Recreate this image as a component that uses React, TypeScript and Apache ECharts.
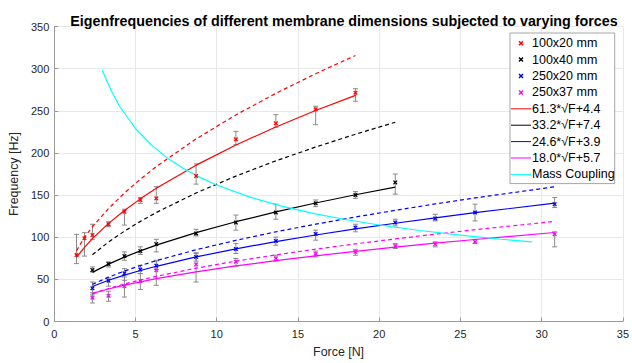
import React, { useEffect, useRef } from "react";
import * as echarts from "echarts";

const FONT = '"Liberation Sans", Arial, Helvetica, sans-serif';

// Applied force [N]
const forceRed = [1.37, 1.86, 2.35, 3.34, 4.32, 5.3, 6.28, 8.73, 11.18, 13.64, 16.09, 18.54];
const forceBlack = [2.35, 3.34, 4.32, 5.3, 6.28, 8.73, 11.18, 13.64, 16.09, 18.54, 20.99];
const forceLong = [2.35, 3.34, 4.32, 5.3, 6.28, 8.73, 11.18, 13.64, 16.09, 18.54, 20.99, 23.45, 25.9, 30.8];

// Measured frequencies [Hz] with error-bar bounds
const red = [78.9, 98.7, 102.5, 115.4, 130.3, 144.2, 146.1, 172.6, 216.1, 235.1, 251.7, 271.3];
const redLo = [68.7, 77.6, 97.5, 112.4, 114.4, 140.2, 140.2, 163, 209.7, 230.5, 233.5, 261.3];
const redHi = [103.4, 105.4, 115.4, 118.3, 133.2, 147.1, 160, 186.9, 225.6, 245.4, 255.4, 276.2];

const black = [61.0, 68.2, 77.6, 83.6, 91.9, 104.4, 117.4, 129.3, 140.2, 150.1, 165];
const blackLo = [58.8, 64.7, 72.7, 79.6, 82.6, 101.5, 108.4, 121.3, 136.2, 146.1, 151.1];
const blackHi = [64.7, 70.7, 82.6, 88.6, 97.5, 109.4, 126.3, 139.2, 144.2, 154.1, 175];

const blue = [39.4, 48.4, 57.2, 61.7, 66.2, 76.6, 86, 95.5, 103.8, 111.4, 117.4, 122.3, 129.3, 139.2];
const blueLo = [31.5, 41.9, 48.8, 56.8, 61.7, 71.7, 80.6, 90.5, 96.5, 106.4, 113.4, 119.3, 119.3, 135.2];
const blueHi = [46.9, 51.8, 62.7, 66.7, 71.7, 81.6, 92.5, 100.1, 108.4, 115.4, 121.3, 127.3, 139.2, 147.1];

const magenta = [28.3, 30.6, 41.9, 47.8, 60.8, 67.7, 71, 75, 80.1, 82.6, 89.5, 91.9, 94.5, 103.5];
const magentaLo = [22, 24, 29, 37.9, 42.9, 46.8, 65.7, 71.7, 76.6, 78.6, 86.6, 88.6, 92.5, 88.6];
const magentaHi = [34, 35.9, 52.8, 56.8, 72.7, 80.6, 74.7, 78.6, 83.6, 85.6, 92.5, 94.5, 97.5, 106.4];

// Fitted curves (solid), read at the measured forces
const redFit = [76.2, 88.0, 98.4, 116.4, 131.8, 145.5, 158.0, 185.5, 209.4, 230.8, 250.3, 268.3];
const blackFit = [58.3, 68.1, 76.4, 83.8, 90.6, 105.5, 118.4, 130.0, 140.6, 150.4, 159.5];
const blueFit = [41.6, 48.9, 55.0, 60.5, 65.5, 76.6, 86.2, 94.8, 102.6, 109.8, 116.6, 123.0, 129.1, 140.4];
const magentaFit = [33.3, 38.6, 43.1, 47.1, 50.8, 58.9, 65.9, 72.2, 77.9, 83.2, 88.2, 92.9, 97.3, 105.6];

// Theoretical curves (dashed)
const redTheory = [84, 100, 112.4, 134, 152.4, 168.8, 183.7, 216.6, 245.1, 270.7, 294, 315.6];
const blackTheory = [79.1, 94.3, 107.2, 118.8, 129.3, 152.5, 172.5, 190.6, 207, 222.2, 236.4];
const blueTheory = [44.1, 52.6, 59.9, 66.3, 72.2, 85.1, 96.3, 106.4, 115.5, 124, 131.9, 139.5, 146.6, 159.8];
const magentaTheory = [32.8, 39.1, 44.5, 49.3, 53.6, 63.2, 71.6, 79, 85.8, 92.1, 98, 103.6, 108.9, 118.8];

// Mass coupling curve
const massForce = [2.95, 3.5, 4, 5, 6, 7, 8, 9, 10, 12, 14, 16, 18, 20, 22.5, 25, 27.5, 29.4];
const massFreq = [298, 274, 256, 229, 209, 193.5, 181, 170.7, 162, 147.8, 136.8, 128, 120.7, 114.5, 108, 102.4, 97.6, 94.4];

const xTicks = [0, 5, 10, 15, 20, 25, 30, 35];
const yTicks = [0, 50, 100, 150, 200, 250, 300, 350];

const names = {
  red: "100x20 mm",
  black: "100x40 mm",
  blue: "250x20 mm",
  magenta: "250x37 mm",
  redFit: "61.3*\u221AF+4.4",
  blackFit: "33.2*\u221AF+7.4",
  blueFit: "24.6*\u221AF+3.9",
  magentaFit: "18.0*\u221AF+5.7",
  mass: "Mass Coupling",
};

const X_SYMBOL = "path://M0,2L2,0L5,3L8,0L10,2L7,5L10,8L8,10L5,7L2,10L0,8L3,5Z";
const LINE_ICON = "path://M0,0L24,0L24,1.2L0,1.2Z";

const pairs = (xs: number[], ys: number[]) => xs.map((x, i) => [x, ys[i]]);
const triples = (xs: number[], lo: number[], hi: number[]) => xs.map((x, i) => [x, lo[i], hi[i]]);

const errorBars = (data: number[][]) => ({
  type: "custom",
  silent: true,
  z: 2,
  data,
  encode: { x: 0, y: [1, 2] },
  renderItem: (_params: any, api: any) => {
    const x = api.value(0);
    const lo = api.coord([x, api.value(1)]);
    const hi = api.coord([x, api.value(2)]);
    const w = 2.5;
    const style = { stroke: "#8a8a8a", lineWidth: 1 };
    return {
      type: "group",
      children: [
        { type: "line", shape: { x1: lo[0], y1: lo[1], x2: hi[0], y2: hi[1] }, style },
        { type: "line", shape: { x1: lo[0] - w, y1: lo[1], x2: lo[0] + w, y2: lo[1] }, style },
        { type: "line", shape: { x1: hi[0] - w, y1: hi[1], x2: hi[0] + w, y2: hi[1] }, style },
      ],
    };
  },
});

const markers = (name: string, color: string, data: number[][]) => ({
  type: "scatter",
  name,
  data,
  symbol: X_SYMBOL,
  symbolSize: 4.5,
  itemStyle: { color, opacity: 1 },
  z: 5,
});

const curve = (name: string | undefined, color: string, data: number[][], dashed: boolean) => ({
  type: "line",
  name,
  data,
  symbol: "none",
  showSymbol: false,
  smooth: false,
  itemStyle: { color },
  lineStyle: { color, width: 1.2, type: dashed ? [4, 3] : "solid" },
  z: dashed ? 3 : 4,
});

export default function App() {
  const ref = useRef<HTMLDivElement>(null);
  useEffect(() => {
    if (!ref.current) return;
    const chart = echarts.init(ref.current, undefined, { renderer: "svg" });
    chart.setOption({
      animation: false,
      backgroundColor: "#ffffff",
      textStyle: { fontFamily: FONT },
      title: {
        text: "Eigenfrequencies of different membrane dimensions subjected to varying forces",
        left: 339,
        textAlign: "center",
        top: 9,
        textStyle: { fontFamily: FONT, fontSize: 14.3, fontWeight: "bold", color: "#000" },
      },
      grid: { left: 51.3, right: 6.7, top: 26.5, bottom: 41.5, containLabel: false },
      xAxis: {
        type: "value",
        min: xTicks[0],
        max: xTicks[xTicks.length - 1],
        interval: 5,
        name: "Force [N]",
        nameLocation: "middle",
        nameGap: 24,
        nameTextStyle: { fontFamily: FONT, fontSize: 12.4, color: "#262626" },
        axisLine: { show: true, onZero: false, lineStyle: { color: "#9a9a9a", width: 1 } },
        axisTick: { show: true, inside: true, length: 4, lineStyle: { color: "#9a9a9a" } },
        axisLabel: { fontFamily: FONT, fontSize: 11, color: "#262626", margin: 7 },
        splitLine: { show: true, lineStyle: { color: "#e8e8e8", width: 1 } },
      },
      yAxis: {
        type: "value",
        min: yTicks[0],
        max: yTicks[yTicks.length - 1],
        interval: 50,
        name: "Frequency [Hz]",
        nameLocation: "middle",
        nameGap: 21,
        nameRotate: 90,
        nameTextStyle: { fontFamily: FONT, fontSize: 12.4, color: "#262626" },
        axisLine: { show: true, onZero: false, lineStyle: { color: "#9a9a9a", width: 1 } },
        axisTick: { show: true, inside: true, length: 4, lineStyle: { color: "#9a9a9a" } },
        axisLabel: { fontFamily: FONT, fontSize: 11, color: "#262626", margin: 5 },
        splitLine: { show: true, lineStyle: { color: "#e8e8e8", width: 1 } },
      },
      legend: {
        orient: "vertical",
        left: 510,
        top: 33,
        padding: [2, 0, 1, 1],
        itemWidth: 20,
        itemHeight: 5,
        itemGap: 0,
        backgroundColor: "#ffffff",
        borderColor: "#a6a6a6",
        borderWidth: 1,
        textStyle: { fontFamily: FONT, fontSize: 12.5, color: "#000", lineHeight: 16.4, padding: [0, 0, 0, -4] },
        data: [
          { name: names.red, icon: X_SYMBOL },
          { name: names.black, icon: X_SYMBOL },
          { name: names.blue, icon: X_SYMBOL },
          { name: names.magenta, icon: X_SYMBOL },
          { name: names.redFit, icon: LINE_ICON },
          { name: names.blackFit, icon: LINE_ICON },
          { name: names.blueFit, icon: LINE_ICON },
          { name: names.magentaFit, icon: LINE_ICON },
          { name: names.mass, icon: LINE_ICON },
        ],
      },
      series: [
        errorBars(triples(forceRed, redLo, redHi)),
        errorBars(triples(forceBlack, blackLo, blackHi)),
        errorBars(triples(forceLong, blueLo, blueHi)),
        errorBars(triples(forceLong, magentaLo, magentaHi)),
        curve(undefined, "#ff0000", pairs(forceRed, redTheory), true),
        curve(undefined, "#000000", pairs(forceBlack, blackTheory), true),
        curve(undefined, "#0000ff", pairs(forceLong, blueTheory), true),
        curve(undefined, "#ff00ff", pairs(forceLong, magentaTheory), true),
        curve(names.redFit, "#ff0000", pairs(forceRed, redFit), false),
        curve(names.blackFit, "#000000", pairs(forceBlack, blackFit), false),
        curve(names.blueFit, "#0000ff", pairs(forceLong, blueFit), false),
        curve(names.magentaFit, "#ff00ff", pairs(forceLong, magentaFit), false),
        curve(names.mass, "#00ffff", pairs(massForce, massFreq), false),
        markers(names.red, "#ff0000", pairs(forceRed, red)),
        markers(names.black, "#000000", pairs(forceBlack, black)),
        markers(names.blue, "#0000ff", pairs(forceLong, blue)),
        markers(names.magenta, "#ff00ff", pairs(forceLong, magenta)),
      ],
    });
    return () => chart.dispose();
  }, []);
  return <div ref={ref} style={{ width: 632, height: 363, position: "fixed", left: 0, top: 0 }} />;
}
